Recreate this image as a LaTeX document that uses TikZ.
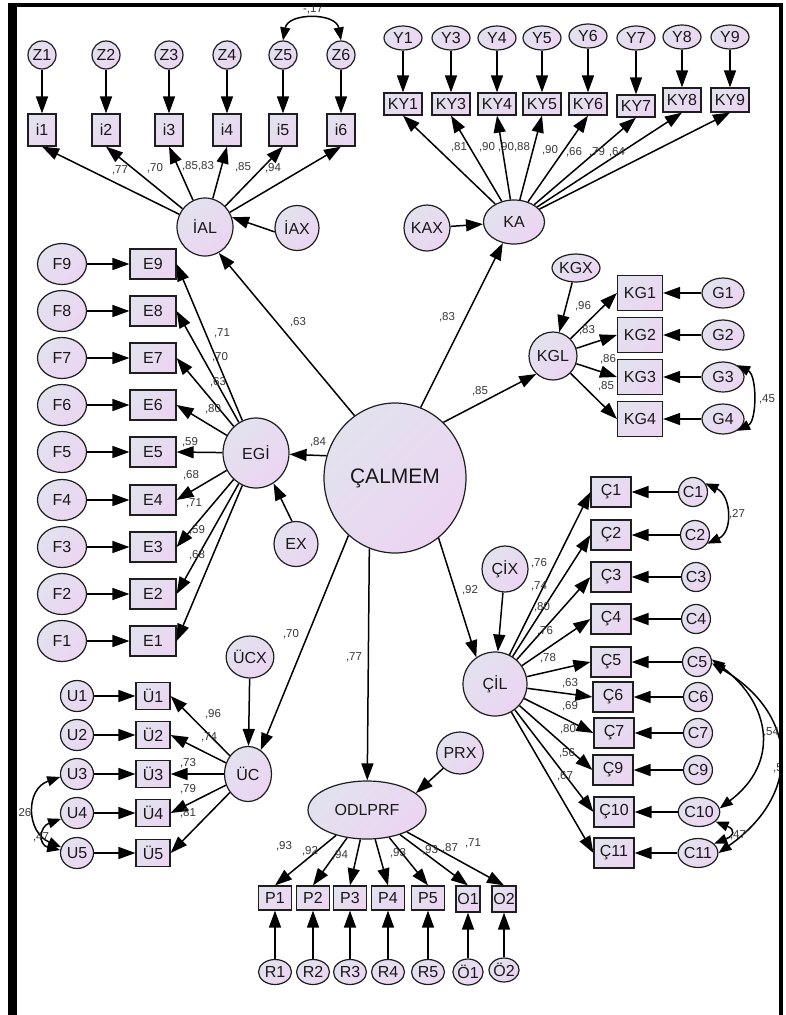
\documentclass[tikz,border=0pt]{standalone}
\usepackage{fontspec}
\setmainfont{Liberation Sans}
\usetikzlibrary{shapes.geometric,arrows.meta}
\definecolor{shTop}{RGB}{226,226,238}
\definecolor{shBot}{RGB}{236,212,242}
\definecolor{lineC}{RGB}{30,30,30}
\definecolor{txtC}{RGB}{25,25,25}
\definecolor{lblC}{RGB}{55,55,55}

\begin{document}
\begin{tikzpicture}[x=1pt,y=-1pt,
    shadefill/.style={draw=lineC, line width=1.2pt, shade, top color=shTop, bottom color=shBot,
      shading angle=45, inner sep=0pt, text=txtC, font=\fontsize{16}{16}\selectfont},
    box/.style 2 args={shadefill, rectangle, minimum width=#1, minimum height=#2},
    oval/.style 2 args={shadefill, ellipse, minimum width=#1, minimum height=#2},
    arr/.style={line width=1.5pt, -{Triangle[length=17pt,width=12pt]}},
    cov/.style={line width=1.5pt, {Triangle[length=13pt,width=10pt]}-{Triangle[length=13pt,width=10pt]}},
    lbl/.style={inner sep=0pt, text=lblC, font=\fontsize{11.5}{12}\selectfont}]
      \useasboundingbox (0,0) rectangle (785,1015);

      % Define the second order factor
      \node[oval={142pt}{150pt}, font=\fontsize{21}{21}\selectfont] (calmem) at (395,478) {ÇALMEM};

      % Define the nodes of IAL
      \node[oval={28pt}{28pt}] (z1) at (42,55) {Z1};
      \node[oval={28pt}{28pt}] (z2) at (106,55) {Z2};
      \node[oval={28pt}{28pt}] (z3) at (169,55) {Z3};
      \node[oval={28pt}{28pt}] (z4) at (227,55) {Z4};
      \node[oval={28pt}{28pt}] (z5) at (283,55) {Z5};
      \node[oval={28pt}{28pt}] (z6) at (341,55) {Z6};
      \node[box={28pt}{32pt}] (i1) at (42,130) {i1};
      \node[box={28pt}{32pt}] (i2) at (106,130) {i2};
      \node[box={28pt}{32pt}] (i3) at (169,130) {i3};
      \node[box={28pt}{32pt}] (i4) at (227,130) {i4};
      \node[box={28pt}{32pt}] (i5) at (283,130) {i5};
      \node[box={28pt}{32pt}] (i6) at (341,130) {i6};
      \node[oval={56pt}{58pt}] (ial) at (205,227) {İAL};
      \node[oval={44pt}{45pt}] (iax) at (297,228) {İAX};

      % Define the nodes of KA
      \node[oval={38pt}{24pt}] (y1) at (403,38) {Y1};
      \node[oval={38pt}{24pt}] (y3) at (451,38) {Y3};
      \node[oval={38pt}{24pt}] (y4) at (497,38) {Y4};
      \node[oval={38pt}{24pt}] (y5) at (542,38) {Y5};
      \node[oval={38pt}{24pt}] (y6) at (588,36) {Y6};
      \node[oval={38pt}{24pt}] (y7) at (636,38) {Y7};
      \node[oval={38pt}{24pt}] (y8) at (682,37) {Y8};
      \node[oval={38pt}{24pt}] (y9) at (730,37) {Y9};
      \node[box={38pt}{22pt}] (ky1) at (403,104) {KY1};
      \node[box={38pt}{22pt}] (ky3) at (451,104) {KY3};
      \node[box={38pt}{22pt}] (ky4) at (497,104) {KY4};
      \node[box={38pt}{22pt}] (ky5) at (542,104) {KY5};
      \node[box={38pt}{22pt}] (ky6) at (588,104) {KY6};
      \node[box={38pt}{22pt}] (ky7) at (636,106) {KY7};
      \node[box={38pt}{24pt}] (ky8) at (682,100) {KY8};
      \node[box={38pt}{24pt}] (ky9) at (730,100) {KY9};
      \node[oval={61pt}{44pt}] (ka) at (514,222) {KA};
      \node[oval={46pt}{46pt}] (kax) at (427,228) {KAX};

      % Define the nodes of KGL
      \node[oval={48pt}{28pt}] (kgx) at (576,268) {KGX};
      \node[oval={48pt}{48pt}] (kgl) at (553,356) {KGL};
      \node[box={45pt}{35pt}] (kg1) at (640,293) {KG1};
      \node[box={45pt}{35pt}] (kg2) at (640,335) {KG2};
      \node[box={45pt}{35pt}] (kg3) at (640,377) {KG3};
      \node[box={45pt}{35pt}] (kg4) at (640,419) {KG4};
      \node[oval={42pt}{30pt}] (g1) at (723,293) {G1};
      \node[oval={42pt}{30pt}] (g2) at (723,335) {G2};
      \node[oval={42pt}{30pt}] (g3) at (723,377) {G3};
      \node[oval={42pt}{30pt}] (g4) at (723,419) {G4};

      % Define the nodes of EGI
      \node[oval={49pt}{41pt}] (f9) at (62,264) {F9};
      \node[oval={49pt}{41pt}] (f8) at (62,311) {F8};
      \node[oval={49pt}{41pt}] (f7) at (62,358) {F7};
      \node[oval={49pt}{41pt}] (f6) at (62,405) {F6};
      \node[oval={49pt}{41pt}] (f5) at (62,452) {F5};
      \node[oval={49pt}{41pt}] (f4) at (62,500) {F4};
      \node[oval={49pt}{41pt}] (f3) at (62,547) {F3};
      \node[oval={49pt}{41pt}] (f2) at (62,594) {F2};
      \node[oval={49pt}{41pt}] (f1) at (62,641) {F1};
      \node[box={46pt}{30pt}] (e9) at (153,264) {E9};
      \node[box={46pt}{30pt}] (e8) at (153,311) {E8};
      \node[box={46pt}{30pt}] (e7) at (153,358) {E7};
      \node[box={46pt}{30pt}] (e6) at (153,405) {E6};
      \node[box={46pt}{30pt}] (e5) at (153,452) {E5};
      \node[box={46pt}{30pt}] (e4) at (153,500) {E4};
      \node[box={46pt}{30pt}] (e3) at (153,547) {E3};
      \node[box={46pt}{30pt}] (e2) at (153,594) {E2};
      \node[box={46pt}{30pt}] (e1) at (153,641) {E1};
      \node[oval={66pt}{70pt}] (egi) at (256,453) {EGİ};
      \node[oval={44pt}{45pt}] (ex) at (296,544) {EX};

      % Define the nodes of UC
      \node[oval={37pt}{42pt}] (ucx) at (250,657) {ÜCX};
      \node[oval={47pt}{55pt}] (uc) at (248,774) {ÜC};
      \node[oval={33pt}{31pt}] (ue1) at (77,696) {U1};
      \node[oval={33pt}{31pt}] (ue2) at (77,735) {U2};
      \node[oval={33pt}{31pt}] (ue3) at (77,774) {U3};
      \node[oval={33pt}{31pt}] (ue4) at (77,813) {U4};
      \node[oval={33pt}{31pt}] (ue5) at (77,853) {U5};
      \node[box={34pt}{27pt}] (ub1) at (153,696) {Ü1};
      \node[box={34pt}{27pt}] (ub2) at (153,735) {Ü2};
      \node[box={34pt}{27pt}] (ub3) at (153,774) {Ü3};
      \node[box={34pt}{27pt}] (ub4) at (153,813) {Ü4};
      \node[box={34pt}{27pt}] (ub5) at (153,853) {Ü5};

      % Define the nodes of ODLPRF
      \node[oval={118pt}{58pt}] (odl) at (367,810) {ODLPRF};
      \node[oval={42pt}{42pt}] (prx) at (460,753) {PRX};
      \node[box={33pt}{24pt}] (p1) at (275,898) {P1};
      \node[box={33pt}{24pt}] (p2) at (313,898) {P2};
      \node[box={33pt}{24pt}] (p3) at (350,898) {P3};
      \node[box={33pt}{24pt}] (p4) at (388,898) {P4};
      \node[box={33pt}{24pt}] (p5) at (428,898) {P5};
      \node[box={24pt}{26pt}] (o1) at (468,899) {O1};
      \node[box={24pt}{26pt}] (o2) at (504,899) {O2};
      \node[oval={33pt}{25pt}] (r1) at (275,972) {R1};
      \node[oval={33pt}{25pt}] (r2) at (313,972) {R2};
      \node[oval={33pt}{25pt}] (r3) at (350,972) {R3};
      \node[oval={33pt}{25pt}] (r4) at (388,972) {R4};
      \node[oval={33pt}{25pt}] (r5) at (428,972) {R5};
      \node[oval={25pt}{26pt}] (oe1) at (468,972) {Ö1};
      \node[oval={25pt}{24pt}] (oe2) at (504,970) {Ö2};

      % Define the nodes of CIL
      \node[oval={46pt}{46pt}] (cix) at (505,569) {ÇİX};
      \node[oval={64pt}{64pt}] (cil) at (495,684) {ÇİL};
      \node[box={40pt}{30pt}] (cb1) at (611,492) {Ç1};
      \node[box={40pt}{30pt}] (cb2) at (611,535) {Ç2};
      \node[box={40pt}{30pt}] (cb3) at (611,577) {Ç3};
      \node[box={40pt}{30pt}] (cb4) at (611,619) {Ç4};
      \node[box={40pt}{30pt}] (cb5) at (611,662) {Ç5};
      \node[box={40pt}{30pt}] (cb6) at (613,697) {Ç6};
      \node[box={40pt}{30pt}] (cb7) at (614,733) {Ç7};
      \node[box={40pt}{30pt}] (cb9) at (613,770) {Ç9};
      \node[box={40pt}{30pt}] (cb10) at (614,812) {Ç10};
      \node[box={40pt}{30pt}] (cb11) at (614,853) {Ç11};
      \node[oval={27pt}{29pt}] (ce1) at (693,492) {C1};
      \node[oval={27pt}{29pt}] (ce2) at (695,535) {C2};
      \node[oval={27pt}{29pt}] (ce3) at (696,577) {C3};
      \node[oval={27pt}{29pt}] (ce4) at (696,619) {C4};
      \node[oval={27pt}{29pt}] (ce5) at (697,662) {C5};
      \node[oval={27pt}{29pt}] (ce6) at (698,697) {C6};
      \node[oval={27pt}{29pt}] (ce7) at (698,733) {C7};
      \node[oval={27pt}{29pt}] (ce9) at (698,770) {C9};
      \node[oval={27pt}{29pt}] (ce10) at (699,812) {C10};
      \node[oval={27pt}{29pt}] (ce11) at (698,853) {C11};

      % Draw the arrows from the error terms
      \draw[arr] (z1) -- (i1);
      \draw[arr] (z2) -- (i2);
      \draw[arr] (z3) -- (i3);
      \draw[arr] (z4) -- (i4);
      \draw[arr] (z5) -- (i5);
      \draw[arr] (z6) -- (i6);
      \draw[arr] (y1) -- (ky1);
      \draw[arr] (y3) -- (ky3);
      \draw[arr] (y4) -- (ky4);
      \draw[arr] (y5) -- (ky5);
      \draw[arr] (y6) -- (ky6);
      \draw[arr] (y7) -- (ky7);
      \draw[arr] (y8) -- (ky8);
      \draw[arr] (y9) -- (ky9);
      \draw[arr] (g1) -- (kg1);
      \draw[arr] (g2) -- (kg2);
      \draw[arr] (g3) -- (kg3);
      \draw[arr] (g4) -- (kg4);
      \draw[arr] (f9) -- (e9);
      \draw[arr] (f8) -- (e8);
      \draw[arr] (f7) -- (e7);
      \draw[arr] (f6) -- (e6);
      \draw[arr] (f5) -- (e5);
      \draw[arr] (f4) -- (e4);
      \draw[arr] (f3) -- (e3);
      \draw[arr] (f2) -- (e2);
      \draw[arr] (f1) -- (e1);
      \draw[arr] (ue1) -- (ub1);
      \draw[arr] (ue2) -- (ub2);
      \draw[arr] (ue3) -- (ub3);
      \draw[arr] (ue4) -- (ub4);
      \draw[arr] (ue5) -- (ub5);
      \draw[arr] (r1) -- (p1);
      \draw[arr] (r2) -- (p2);
      \draw[arr] (r3) -- (p3);
      \draw[arr] (r4) -- (p4);
      \draw[arr] (r5) -- (p5);
      \draw[arr] (oe1) -- (o1);
      \draw[arr] (oe2) -- (o2);
      \draw[arr] (ce1) -- (cb1);
      \draw[arr] (ce2) -- (cb2);
      \draw[arr] (ce3) -- (cb3);
      \draw[arr] (ce4) -- (cb4);
      \draw[arr] (ce5) -- (cb5);
      \draw[arr] (ce6) -- (cb6);
      \draw[arr] (ce7) -- (cb7);
      \draw[arr] (ce9) -- (cb9);
      \draw[arr] (ce10) -- (cb10);
      \draw[arr] (ce11) -- (cb11);

      % Draw the loadings
      \draw[arr] (ial) -- (i1.south);
      \draw[arr] (ial) -- (i2.south);
      \draw[arr] (ial) -- (i3.south);
      \draw[arr] (ial) -- (i4.south);
      \draw[arr] (ial) -- (i5.south);
      \draw[arr] (ial) -- (i6.south);
      \draw[arr] (ka) -- (ky1.south);
      \draw[arr] (ka) -- (ky3.south);
      \draw[arr] (ka) -- (ky4.south);
      \draw[arr] (ka) -- (ky5.south);
      \draw[arr] (ka) -- (ky6.south);
      \draw[arr] (ka) -- (ky7.south);
      \draw[arr] (ka) -- (ky8.south);
      \draw[arr] (ka) -- (ky9.south);
      \draw[arr] (kgl) -- (kg1.west);
      \draw[arr] (kgl) -- (kg2.west);
      \draw[arr] (kgl) -- (kg3.west);
      \draw[arr] (kgl) -- (kg4.west);
      \draw[arr] (egi) -- (e9.east);
      \draw[arr] (egi) -- (e8.east);
      \draw[arr] (egi) -- (e7.east);
      \draw[arr] (egi) -- (e6.east);
      \draw[arr] (egi) -- (e5.east);
      \draw[arr] (egi) -- (e4.east);
      \draw[arr] (egi) -- (e3.east);
      \draw[arr] (egi) -- (e2.east);
      \draw[arr] (egi) -- (e1.east);
      \draw[arr] (uc) -- (ub1.east);
      \draw[arr] (uc) -- (ub2.east);
      \draw[arr] (uc) -- (ub3.east);
      \draw[arr] (uc) -- (ub4.east);
      \draw[arr] (uc) -- (ub5.east);
      \draw[arr] (odl) -- (p1.north);
      \draw[arr] (odl) -- (p2.north);
      \draw[arr] (odl) -- (p3.north);
      \draw[arr] (odl) -- (p4.north);
      \draw[arr] (odl) -- (p5.north);
      \draw[arr] (odl) -- (o1.north);
      \draw[arr] (odl) -- (o2.north);
      \draw[arr] (cil) -- (cb1.west);
      \draw[arr] (cil) -- (cb2.west);
      \draw[arr] (cil) -- (cb3.west);
      \draw[arr] (cil) -- (cb4.west);
      \draw[arr] (cil) -- (cb5.west);
      \draw[arr] (cil) -- (cb6.west);
      \draw[arr] (cil) -- (cb7.west);
      \draw[arr] (cil) -- (cb9.west);
      \draw[arr] (cil) -- (cb10.west);
      \draw[arr] (cil) -- (cb11.west);

      % Draw the disturbances
      \draw[arr] (iax.190) -- (ial.20);
      \draw[arr] (kax) -- (ka);
      \draw[arr] (kgx) -- (kgl);
      \draw[arr] (ex.100) -- (egi.-60);
      \draw[arr] (ucx) -- (uc);
      \draw[arr] (prx) -- (odl.19);
      \draw[arr] (cix) -- (cil);

      % Draw the arrows from CALMEM
      \draw[arr] (calmem.123) -- (ial.-62);
      \draw[arr] (calmem.70) -- (ka.242);
      \draw[arr] (calmem.49) -- (kgl.227);
      \draw[arr] (calmem.162) -- (egi);
      \draw[arr] (calmem.-54) -- (cil.125);
      \draw[arr] (calmem.231) -- (uc.62);
      \draw[arr] (calmem.250) -- (odl);

      % Draw the covariances
      \draw[cov] (z5.north) .. controls +(5,-28) and +(-5,-28) .. (z6.north);
      \draw[cov] (g3.40) .. controls +(20,10) and +(20,-10) .. (g4.-40);
      \draw[cov] (ce1.35) .. controls +(26,12) and +(26,-12) .. (ce2.-35);
      \draw[cov] (ce5.10) .. controls +(60,45) and +(60,-45) .. (ce10.10);
      \draw[cov] (ce5.-5) .. controls +(85,50) and +(85,-60) .. (ce11.0);
      \draw[cov] (ce10.-30) .. controls +(20,8) and +(20,-8) .. (ce11.30);
      \draw[cov] (ue3.190) .. controls +(-35,12) and +(-35,-15) .. (ue5.160);
      \draw[cov] (ue4.200) .. controls +(-22,8) and +(-22,-5) .. (ue5.170);

      % Labels of the estimates
      \node[lbl] (wi1) at (120,170) {,77};
      \node[lbl] (wi2) at (155,168) {,70};
      \node[lbl] (wi3) at (190,166) {,85};
      \node[lbl] (wi4) at (206,166) {,83};
      \node[lbl] (wi5) at (243,167) {,85};
      \node[lbl] (wi6) at (273,168) {,94};
      \node[lbl] (wz56) at (313,9) {-,17};
      \node[lbl] (wky1) at (459,147) {,81};
      \node[lbl] (wky3) at (487,147) {,90};
      \node[lbl] (wky4) at (506,147) {,90};
      \node[lbl] (wky5x) at (522,147) {,88};
      \node[lbl] (wky5) at (550,150) {,90};
      \node[lbl] (wky6) at (574,152) {,66};
      \node[lbl] (wky7) at (597,152) {,79};
      \node[lbl] (wky8) at (617,152) {,64};
      \node[lbl] (wka) at (447,317) {,83};
      \node[lbl] (wkgl) at (480,391) {,85};
      \node[lbl] (wkgx) at (583,306) {,96};
      \node[lbl] (wkg2) at (587,330) {,83};
      \node[lbl] (wkg3) at (608,359) {,86};
      \node[lbl] (wkg4) at (606,386) {,85};
      \node[lbl] (wg34) at (767,399) {,45};
      \node[lbl] (wial) at (298,322) {,63};
      \node[lbl] (wegi) at (318,442) {,84};
      \node[lbl] (we9) at (222,333) {,71};
      \node[lbl] (we8) at (220,357) {,70};
      \node[lbl] (we7) at (218,382) {,63};
      \node[lbl] (we6) at (213,409) {,80};
      \node[lbl] (we5) at (190,442) {,59};
      \node[lbl] (we4) at (191,475) {,68};
      \node[lbl] (we3) at (194,503) {,71};
      \node[lbl] (we2) at (197,530) {,59};
      \node[lbl] (we1) at (197,555) {,68};
      \node[lbl] (wuc) at (291,634) {,70};
      \node[lbl] (wodl) at (354,657) {,77};
      \node[lbl] (wub1) at (213,714) {,96};
      \node[lbl] (wub2) at (209,737) {,74};
      \node[lbl] (wub3) at (188,763) {,73};
      \node[lbl] (wub4) at (188,789) {,79};
      \node[lbl] (wub5) at (188,813) {,81};
      \node[lbl] (wu35) at (25,813) {26};
      \node[lbl] (wu45) at (41,837) {,47};
      \node[lbl] (wp1) at (284,846) {,93};
      \node[lbl] (wp2) at (310,851) {,92};
      \node[lbl] (wp3) at (340,855) {,94};
      \node[lbl] (wp4) at (398,853) {,93};
      \node[lbl] (wp5) at (430,850) {,93};
      \node[lbl] (wo1) at (450,848) {,87};
      \node[lbl] (wo2) at (473,843) {,71};
      \node[lbl] (wcil) at (470,590) {,92};
      \node[lbl] (wcb1) at (539,563) {,76};
      \node[lbl] (wcb2) at (539,586) {,74};
      \node[lbl] (wcb3) at (542,607) {,80};
      \node[lbl] (wcb4) at (545,631) {,76};
      \node[lbl] (wcb5) at (548,658) {,78};
      \node[lbl] (wcb6) at (570,683) {,63};
      \node[lbl] (wcb7) at (570,706) {,69};
      \node[lbl] (wcb9) at (568,729) {,80};
      \node[lbl] (wcb10) at (567,753) {,56};
      \node[lbl] (wcb11) at (565,776) {,67};
      \node[lbl] (wc12) at (737,514) {,27};
      \node[lbl] (wc510) at (771,732) {,54};
      \node[lbl] (wc511) at (778,768) {,5};
      \node[lbl] (wc1011) at (738,835) {,47};

      % Frame
      \fill[black] (8,3) rectangle (17,1015);
      \fill[black] (8,3) rectangle (783,7);
      \fill[black] (779,3) rectangle (783,1015);
\end{tikzpicture}
\end{document}
